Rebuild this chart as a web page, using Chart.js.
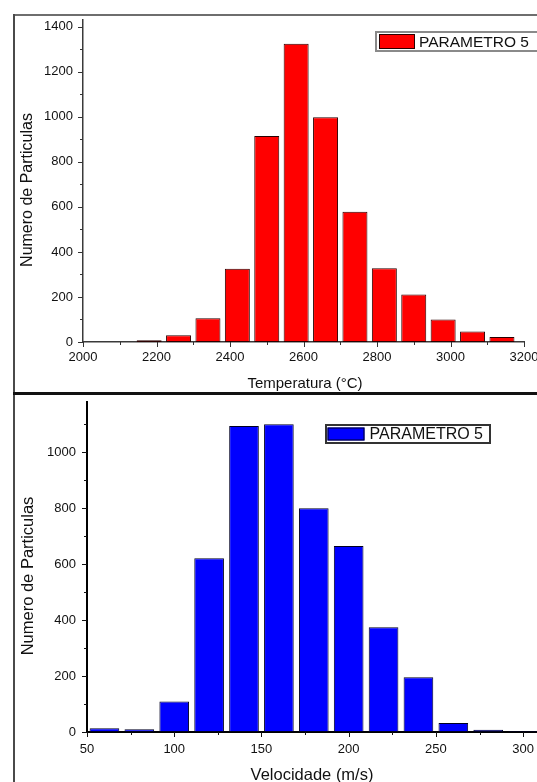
<!DOCTYPE html>
<html>
<head>
<meta charset="utf-8">
<title>Distribuição de partículas</title>
<script src="https://cdn.jsdelivr.net/npm/chart.js@4.4.1/dist/chart.umd.min.js"></script>
<style>
  html, body { margin: 0; padding: 0; background: #fff; }
  body { width: 537px; height: 782px; overflow: hidden; position: relative; }
  .rule { position: absolute; }
  .panel { position: absolute; left: 0; }
  canvas { display: block; }
</style>
</head>
<body>
<!-- panel frame -->
<div class="rule" style="left:13px;top:14px;width:524px;height:2px;background:#6e6e6e"></div>
<div class="rule" style="left:13px;top:14px;width:2px;height:768px;background:#4a4a4a"></div>
<div class="rule" style="left:13px;top:392px;width:524px;height:3px;background:#111"></div>

<div class="panel" style="top:0;width:600px;height:392px"><canvas id="tempChart" width="600" height="392"></canvas></div>
<div class="panel" style="top:396px;width:600px;height:386px"><canvas id="velChart" width="600" height="386"></canvas></div>

<script>
// Temperature histogram (80 °C bins, bin centres)
const tempBins   = [2180, 2260, 2340, 2420, 2500, 2580, 2660, 2740, 2820, 2900, 2980, 3060, 3140];
const tempCounts = [8, 30, 105, 325, 915, 1325, 998, 578, 328, 211, 100, 47, 22];
const tempTicks  = [2000, 2200, 2400, 2600, 2800, 3000, 3200];
const tempCountTicks = [0, 200, 400, 600, 800, 1000, 1200, 1400];

// Velocity histogram (20 m/s bins, bin centres)
const velBins   = [60, 80, 100, 120, 140, 160, 180, 200, 220, 240, 260, 280, 300];
const velCounts = [13, 10, 109, 621, 1094, 1100, 800, 665, 375, 196, 32, 8, 3];
const velTicks  = [50, 100, 150, 200, 250, 300];
const velCountTicks = [0, 200, 400, 600, 800, 1000];

const seriesLabel = 'PARAMETRO 5';
const yTitle = 'Numero de Particulas';
const tempTitle = 'Temperatura (°C)';
const velTitle = 'Velocidade (m/s)';

const FONT = "'Liberation Sans', Arial, Helvetica, sans-serif";

// Major/minor tick marks, axis titles and framed legend
const decor = {
  id: 'decor',
  afterDraw(chart, args, o) {
    const ctx = chart.ctx;
    const { left, bottom } = chart.chartArea;
    const xs = chart.scales.x, ys = chart.scales.y;
    ctx.save();
    ctx.strokeStyle = o.tickColor;
    ctx.lineWidth = 1;

    const minorOf = (scale) => {
      const vals = scale.ticks.map(t => t.value);
      const out = [];
      const half = (vals[1] - vals[0]) / 2;
      for (const v of vals) {
        if (v - half >= scale.min && !out.includes(v - half)) out.push(v - half);
        if (v + half <= scale.max) out.push(v + half);
      }
      return out;
    };
    const xMark = (v, len) => {
      const p = Math.round(xs.getPixelForValue(v)) + 0.5;
      ctx.beginPath(); ctx.moveTo(p, bottom); ctx.lineTo(p, bottom + len); ctx.stroke();
    };
    const yMark = (v, len) => {
      const p = Math.round(ys.getPixelForValue(v)) + 0.5;
      ctx.beginPath(); ctx.moveTo(left, p); ctx.lineTo(left - len, p); ctx.stroke();
    };
    xs.ticks.forEach(t => xMark(t.value, o.majorLen));
    minorOf(xs).forEach(v => xMark(v, o.minorLen));
    ys.ticks.forEach(t => yMark(t.value, o.majorLen));
    minorOf(ys).forEach(v => yMark(v, o.minorLen));

    // axis titles
    ctx.fillStyle = o.textColor;
    ctx.textAlign = 'center';
    ctx.textBaseline = 'alphabetic';
    ctx.font = `${o.xTitle.size}px ${FONT}`;
    ctx.fillText(xs.options.title.text, o.xTitle.x, o.xTitle.y);
    ctx.save();
    ctx.translate(o.yTitle.x, o.yTitle.y);
    ctx.rotate(-Math.PI / 2);
    ctx.textBaseline = 'middle';
    ctx.font = `${o.yTitle.size}px ${FONT}`;
    ctx.fillText(ys.options.title.text, 0, 0);
    ctx.restore();

    // legend
    const L = o.legend;
    const ds = chart.data.datasets[0];
    ctx.font = `${L.size}px ${FONT}`;
    const tw = ctx.measureText(ds.label).width;
    const w = L.inset + L.swatch + L.gap + tw + L.padRight;
    ctx.fillStyle = '#fff';
    ctx.fillRect(L.x, L.y, w, L.h);
    ctx.strokeStyle = L.frame;
    ctx.lineWidth = 2;
    ctx.strokeRect(L.x + 1, L.y + 1, w - 2, L.h - 2);
    const sx = L.x + L.inset, sy = L.y + L.vInset, sh = L.h - 2 * L.vInset;
    ctx.fillStyle = ds.backgroundColor;
    ctx.fillRect(sx, sy, L.swatch, sh);
    ctx.strokeStyle = ds.borderColor;
    ctx.lineWidth = 1;
    ctx.strokeRect(sx + 0.5, sy + 0.5, L.swatch - 1, sh - 1);
    ctx.fillStyle = o.textColor;
    ctx.textAlign = 'left';
    ctx.textBaseline = 'middle';
    ctx.fillText(ds.label, sx + L.swatch + L.gap, L.y + L.h / 2 + 1);
    ctx.restore();
  }
};

const plain = v => String(v);

function histogram(canvasId, cfg) {
  return new Chart(document.getElementById(canvasId), {
    type: 'bar',
    data: {
      datasets: [{
        label: seriesLabel,
        data: cfg.bins.map((x, i) => ({ x, y: cfg.counts[i] })),
        backgroundColor: cfg.fill,
        borderColor: cfg.edge,
        borderWidth: 1,
        borderSkipped: false,
        categoryPercentage: 1,
        barPercentage: 0.85
      }]
    },
    options: {
      responsive: false,
      animation: false,
      events: [],
      layout: { padding: cfg.padding },
      plugins: {
        legend: { display: false },
        tooltip: { enabled: false },
        decor: cfg.decor
      },
      scales: {
        x: {
          type: 'linear',
          min: cfg.xMin, max: cfg.xMax,
          offset: false,
          afterBuildTicks: s => { s.ticks = cfg.xTicks.map(value => ({ value })); },
          afterFit: s => { s.height = cfg.xAxisHeight; s.paddingLeft = 0; s.paddingRight = 0; },
          grid: { display: false, drawTicks: false, tickLength: 0, offset: false },
          border: { display: true, color: cfg.axisColor, width: cfg.axisWidth },
          title: { display: false, text: cfg.xTitle },
          ticks: { padding: cfg.xPad, color: '#111', maxRotation: 0, autoSkip: false,
                   callback: plain, font: { family: FONT, size: 13 } }
        },
        y: {
          min: 0, max: cfg.yMax,
          afterBuildTicks: s => { s.ticks = cfg.yTicks.map(value => ({ value })); },
          afterFit: s => { s.width = cfg.yAxisWidth; s.paddingTop = 0; s.paddingBottom = 0; },
          grid: { display: false, drawTicks: false, tickLength: 0 },
          border: { display: true, color: cfg.axisColor, width: cfg.axisWidth },
          title: { display: false, text: yTitle },
          ticks: { padding: cfg.yPad, color: '#111', autoSkip: false,
                   callback: plain, font: { family: FONT, size: 13 } }
        }
      }
    },
    plugins: [decor]
  });
}

histogram('tempChart', {
  bins: tempBins, counts: tempCounts,
  xTicks: tempTicks, yTicks: tempCountTicks,
  xMin: 2000, xMax: 3200, yMax: 1430,
  fill: '#ff0000', edge: '#2a0000',
  axisColor: '#3a3a3a', axisWidth: 1.5,
  padding: { left: 0, top: 20, right: 76, bottom: 0 },
  yAxisWidth: 83, xAxisHeight: 50,
  xPad: 8, yPad: 10,
  xTitle: tempTitle,
  decor: {
    tickColor: '#333', textColor: '#111', majorLen: 5, minorLen: 3,
    xTitle: { x: 305, y: 388, size: 15 },
    yTitle: { x: 28, y: 190, size: 16 },
    legend: { x: 375, y: 31, h: 21, inset: 4, vInset: 3, swatch: 36, gap: 4, padRight: 14,
              size: 15.5, frame: '#8a8a8a' }
  }
});

histogram('velChart', {
  bins: velBins, counts: velCounts,
  xTicks: velTicks, yTicks: velCountTicks,
  xMin: 50, xMax: 320, yMax: 1180,
  fill: '#0000ff', edge: '#000022',
  axisColor: '#000', axisWidth: 2,
  padding: { left: 0, top: 6, right: 42, bottom: 0 },
  yAxisWidth: 87, xAxisHeight: 50,
  xPad: 9.5, yPad: 11,
  xTitle: velTitle,
  decor: {
    tickColor: '#111', textColor: '#111', majorLen: 5, minorLen: 3,
    xTitle: { x: 312, y: 384, size: 16.5 },
    yTitle: { x: 28, y: 180, size: 16.5 },
    legend: { x: 325, y: 28, h: 20, inset: 2.5, vInset: 3.5, swatch: 37, gap: 5, padRight: 8,
              size: 16, frame: '#333' }
  }
});
</script>
</body>
</html>
